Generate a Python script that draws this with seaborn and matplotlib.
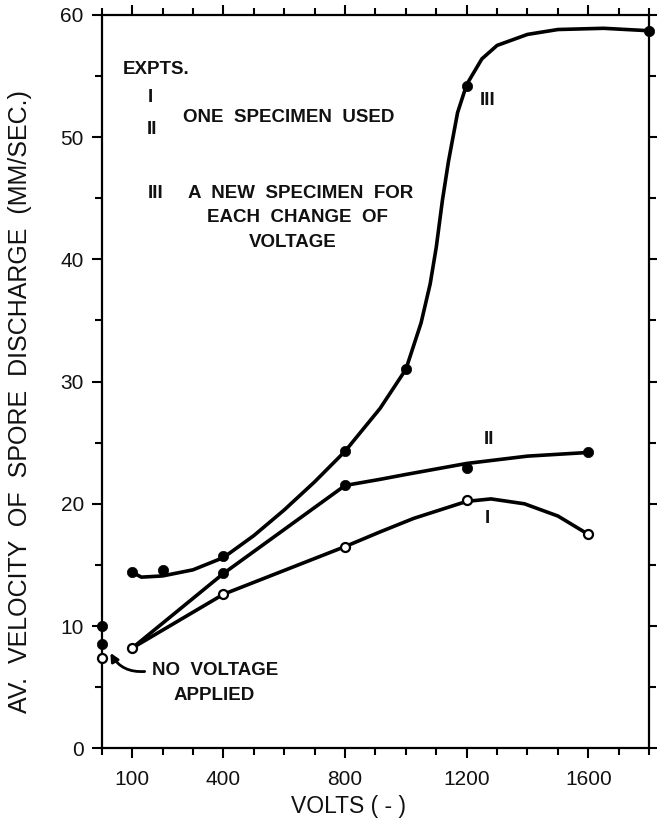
import pandas as pd
import matplotlib
matplotlib.use('Agg')
import matplotlib.pyplot as plt
from matplotlib.ticker import MultipleLocator
import seaborn as sns

# измеренные точки (значки)
volts_I = [100, 400, 800, 1200, 1600]
vel_I = [8.2, 12.6, 16.5, 20.3, 17.5]

volts_II = [400, 800, 1200, 1600]
vel_II = [14.3, 21.5, 22.9, 24.2]

volts_III = [100, 200, 400, 800, 1000, 1200, 1800]
vel_III = [14.4, 14.6, 15.7, 24.3, 31.0, 54.2, 58.7]

# без напряжения (на оси): III, II - закрашенные, I - пустой
novolt_filled = [10.0, 8.5]
novolt_open = [7.4]

# нарисованные от руки кривые
curve_I_x = [100, 400, 800, 915, 1025, 1200, 1280, 1390, 1500, 1600]
curve_I_y = [8.2, 12.6, 16.5, 17.7, 18.8, 20.2, 20.4, 20.0, 19.0, 17.5]

curve_II_x = [100, 400, 800, 915, 1000, 1200, 1400, 1600]
curve_II_y = [8.2, 14.3, 21.5, 22.0, 22.4, 23.3, 23.9, 24.2]

curve_III_x = [100, 130, 200, 300, 400, 500, 600, 700, 800, 915, 1000, 1050,
               1080, 1100, 1120, 1140, 1170, 1200, 1250, 1300, 1400, 1500, 1650, 1800]
curve_III_y = [14.4, 14.0, 14.1, 14.6, 15.6, 17.4, 19.5, 21.8, 24.3, 27.8, 31.0, 34.8,
               38.0, 41.0, 44.8, 48.0, 52.0, 54.3, 56.4, 57.5, 58.4, 58.8, 58.9, 58.7]

x_ticks = [100, 400, 800, 1200, 1600]
y_ticks = [0, 10, 20, 30, 40, 50, 60]

sns.set_theme(style='ticks')
plt.rcParams['font.family'] = ['Liberation Sans', 'DejaVu Sans']

fig = plt.figure(figsize=(6.57, 8.25), dpi=100)
ax = fig.add_axes([0.155, 0.093, 0.833, 0.889])

lw = 2.6
for cx, cy in [(curve_I_x, curve_I_y), (curve_II_x, curve_II_y), (curve_III_x, curve_III_y)]:
    sns.lineplot(x=cx, y=cy, ax=ax, color='black', lw=lw, sort=False, estimator=None)

filled = pd.DataFrame({
    'v': volts_II + volts_III + [0] * len(novolt_filled),
    'vel': vel_II + vel_III + novolt_filled,
})
opened = pd.DataFrame({
    'v': volts_I + [0] * len(novolt_open),
    'vel': vel_I + novolt_open,
})
sns.scatterplot(data=filled, x='v', y='vel', ax=ax, color='black', s=55,
                edgecolor='black', linewidth=0.5, zorder=5, clip_on=False)
sns.scatterplot(data=opened, x='v', y='vel', ax=ax, facecolor='white', s=42,
                edgecolor='black', linewidth=1.6, zorder=6, clip_on=False)

ax.set_xlim(0, 1800)
ax.set_ylim(0, 60)
ax.set_xticks(x_ticks)
ax.set_yticks(y_ticks)
ax.xaxis.set_minor_locator(MultipleLocator(100))
ax.yaxis.set_minor_locator(MultipleLocator(5))
ax.tick_params(which='both', direction='out', top=True, right=True, width=1.5,
               color='black', labelsize=15, labelcolor='#111111')
ax.tick_params(which='major', length=7, pad=6)
ax.tick_params(which='minor', length=5)
ax.tick_params(axis='x', which='major', pad=9)
for sp in ax.spines.values():
    sp.set_visible(True)
    sp.set_linewidth(1.6)
    sp.set_color('black')
ax.set_xlabel('')
ax.set_ylabel('')

fig.text(0.53, 0.022, 'VOLTS ( - )', ha='center', va='center', fontsize=16.5, color='#111111')
fig.text(0.03, 0.513, 'AV.  VELOCITY  OF  SPORE  DISCHARGE  (MM/SEC.)', rotation=90,
         ha='center', va='center', fontsize=18, color='#111111')

# подписи внутри графика
bold = dict(fontsize=13.5, fontweight='bold', color='#111111', va='center')
ax.text(70, 55.5, 'EXPTS.', ha='left', **bold)
ax.text(160, 53.2, 'I', ha='center', **bold)
ax.text(268, 51.6, 'ONE  SPECIMEN  USED', ha='left', **bold)
ax.text(165, 50.6, 'II', ha='center', **bold)
ax.text(176, 45.4, 'III', ha='center', **bold)
ax.text(284, 45.4, 'A  NEW  SPECIMEN  FOR', ha='left', **bold)
ax.text(644, 43.4, 'EACH  CHANGE  OF', ha='center', **bold)
ax.text(628, 41.4, 'VOLTAGE', ha='center', **bold)

ax.text(1270, 53.0, 'III', ha='center', **bold)
ax.text(1272, 25.3, 'II', ha='center', **bold)
ax.text(1267, 18.8, 'I', ha='center', **bold)

ax.text(165, 6.4, 'NO  VOLTAGE', ha='left', **bold)
ax.text(370, 4.3, 'APPLIED', ha='center', **bold)
ax.annotate('', xy=(24, 8.0), xytext=(150, 6.3),
            arrowprops=dict(arrowstyle='-|>', color='black', lw=2.0,
                            mutation_scale=12,
                            connectionstyle='arc3,rad=-0.35'))

fig.savefig('out.png', dpi=100)
